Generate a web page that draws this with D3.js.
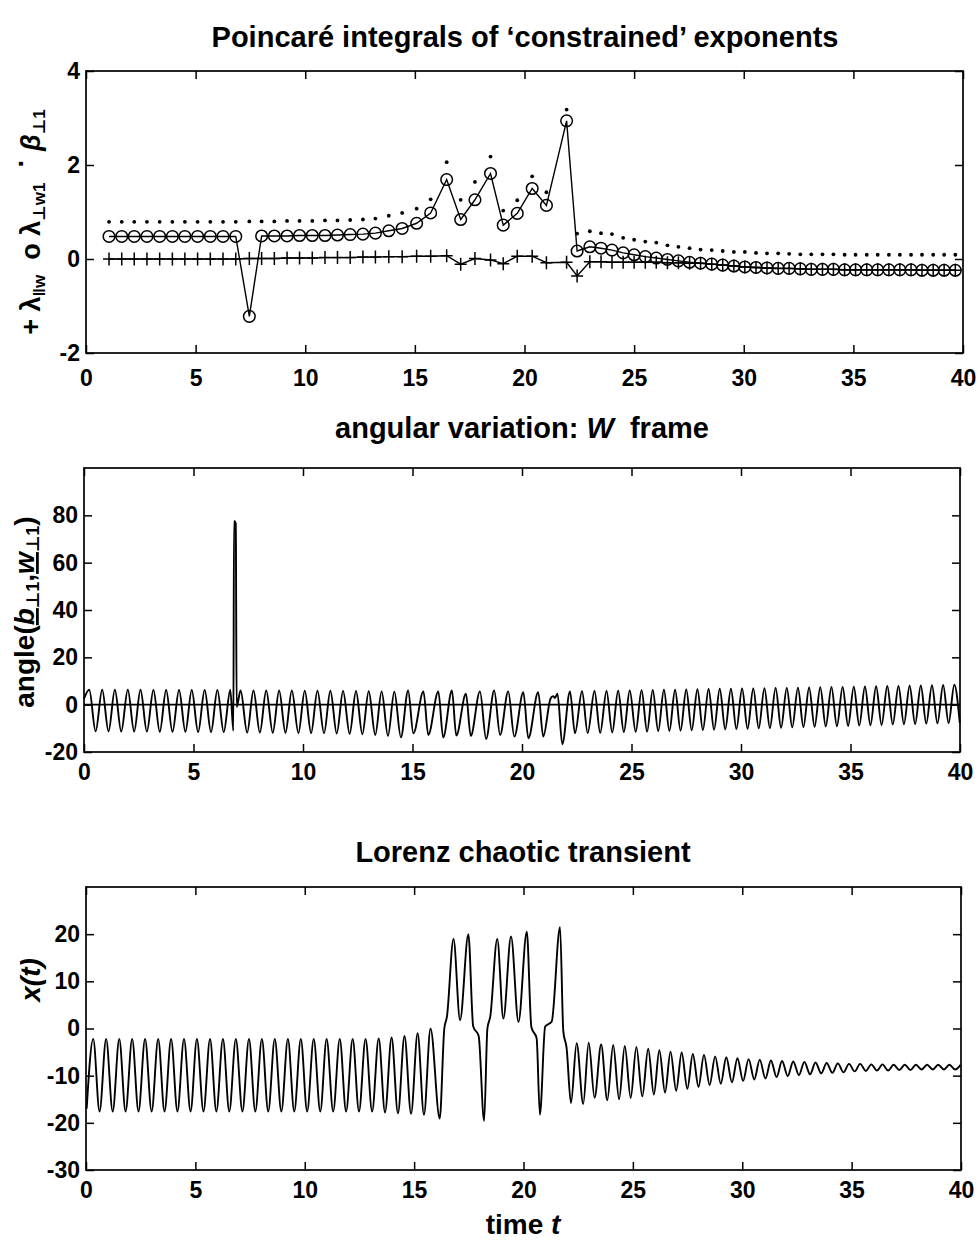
<!DOCTYPE html>
<html>
<head>
<meta charset="utf-8">
<title>Poincaré integrals of constrained exponents</title>
<script src="https://cdn.jsdelivr.net/npm/d3@7/dist/d3.min.js"></script>
<style>
  body { margin: 0; background: #fff; }
  svg text { font-family: "Liberation Sans", Arial, "DejaVu Sans", sans-serif; font-weight: bold; fill: #000; white-space: pre; }
</style>
</head>
<body>
<div id="fig"></div>
<script>
// ---------- data ----------

// shared time ticks
const xTicks = [0, 5, 10, 15, 20, 25, 30, 35, 40];

// top panel: one value per return of the orbit
const retT = [1.05, 1.63, 2.2, 2.78, 3.36, 3.94, 4.51, 5.09, 5.67, 6.25, 6.83, 7.45, 8.01, 8.59, 9.17, 9.74, 10.32, 10.9,
  11.47, 12.05, 12.63, 13.2, 13.81, 14.42, 15.08, 15.72, 16.45, 17.09, 17.74, 18.45, 19.03, 19.67, 20.35, 21.0, 21.92, 22.4,
  22.98, 23.49, 23.99, 24.5, 25.0, 25.51, 26.01, 26.52, 27.02, 27.53, 28.03, 28.54, 29.04, 29.55, 30.05, 30.56, 31.06,
  31.57, 32.07, 32.58, 33.08, 33.59, 34.09, 34.6, 35.1, 35.61, 36.11, 36.62, 37.12, 37.63, 38.13, 38.64, 39.14, 39.65];
// "o" lambda perp w1
const lamPerp = [0.48, 0.48, 0.48, 0.48, 0.48, 0.48, 0.48, 0.48, 0.48, 0.48, 0.48, -1.22, 0.49, 0.49, 0.49, 0.5, 0.5, 0.5,
  0.51, 0.52, 0.53, 0.55, 0.6, 0.65, 0.76, 0.98, 1.69, 0.84, 1.26, 1.82, 0.72, 0.97, 1.5, 1.14, 2.94, 0.17,
  0.26, 0.23, 0.19, 0.13, 0.09, 0.05, 0.02, -0.01, -0.04, -0.07, -0.09, -0.11, -0.13, -0.15, -0.17, -0.18, -0.19,
  -0.2, -0.2, -0.21, -0.22, -0.22, -0.22, -0.23, -0.23, -0.23, -0.23, -0.23, -0.23, -0.23, -0.24, -0.24, -0.24, -0.24];
// "+" lambda parallel w
const lamPar = [0, 0, 0, 0, 0, 0, 0, 0, 0, 0, 0, 0.01, 0.01, 0.01, 0.02, 0.02, 0.02, 0.03,
  0.03, 0.03, 0.04, 0.04, 0.05, 0.05, 0.06, 0.06, 0.07, -0.11, 0.01, -0.02, -0.1, 0.06, 0.06, -0.08, -0.07, -0.36,
  -0.06, -0.06, -0.07, -0.07, -0.07, -0.07, -0.07, -0.08, -0.08, -0.09, -0.09, -0.11, -0.13, -0.15, -0.17, -0.18, -0.19,
  -0.2, -0.2, -0.21, -0.22, -0.22, -0.22, -0.23, -0.23, -0.23, -0.23, -0.23, -0.23, -0.23, -0.24, -0.24, -0.24, -0.24];
// "." beta perp 1
const betaPerp = [0.79, 0.79, 0.79, 0.79, 0.79, 0.79, 0.79, 0.79, 0.79, 0.79, 0.79, 0.8, 0.8, 0.8, 0.81, 0.81, 0.81, 0.82,
  0.82, 0.83, 0.84, 0.86, 0.92, 0.98, 1.07, 1.27, 2.06, 1.26, 1.64, 2.18, 1.03, 1.25, 1.76, 1.42, 3.18, 0.54,
  0.59, 0.55, 0.53, 0.45, 0.41, 0.37, 0.35, 0.29, 0.26, 0.23, 0.2, 0.19, 0.17, 0.15, 0.15, 0.13, 0.12,
  0.12, 0.11, 0.1, 0.1, 0.1, 0.1, 0.09, 0.09, 0.09, 0.09, 0.09, 0.09, 0.09, 0.09, 0.09, 0.09, 0.09];
const yTicksTop = [-2, 0, 2, 4];

// middle panel: maxima, minima and odd points of angle(b, w)
const angPeakT = [0.24, 0.83, 1.41, 2.0, 2.58, 3.17, 3.75, 4.34, 4.92, 5.51, 6.09, 6.68,
  7.15, 7.74, 8.32, 8.91, 9.49, 10.08, 10.66, 11.25, 11.83, 12.42, 13.0, 13.59, 14.17,
  14.8, 15.5, 16.18, 16.8, 17.44, 18.08, 18.73, 19.37, 20.06, 20.74, 22.19,
  22.74, 23.31, 23.86, 24.39, 24.92, 25.46, 25.97, 26.48, 26.99, 27.5, 28.01, 28.52, 29.03, 29.54, 30.05, 30.56, 31.07,
  31.58, 32.09, 32.6, 33.11, 33.62, 34.13, 34.64, 35.15, 35.66, 36.17, 36.68, 37.19, 37.7, 38.21, 38.72, 39.23, 39.74];
const angPeakV = [6.3, 6.3, 6.3, 6.3, 6.3, 6.2, 6.2, 6.2, 6.2, 6.2, 6.2, 6.2,
  6.0, 6.0, 6.0, 6.0, 6.0, 5.9, 5.9, 5.9, 5.8, 5.8, 5.7, 5.6, 5.5,
  6.0, 5.6, 5.6, 6.0, 4.6, 5.6, 6.0, 5.6, 5.3, 5.3, 5.6,
  5.7, 5.8, 5.8, 5.9, 6.0, 6.1, 6.2, 6.3, 6.3, 6.4, 6.5, 6.6, 6.7, 6.7, 6.8, 6.9, 7.0,
  7.1, 7.1, 7.2, 7.3, 7.4, 7.5, 7.5, 7.6, 7.7, 7.8, 7.9, 7.9, 8.0, 8.1, 8.2, 8.3, 8.4];
const angTroughT = [0.53, 1.12, 1.7, 2.29, 2.87, 3.46, 4.04, 4.63, 5.21, 5.8, 6.38, 6.82,
  7.45, 8.03, 8.62, 9.2, 9.79, 10.37, 10.96, 11.54, 12.13, 12.71, 13.3, 13.88, 14.47,
  15.04, 15.72, 16.4, 17.0, 17.66, 18.36, 19.0, 19.65, 20.29, 20.97, 21.84, 22.42,
  23.0, 23.57, 24.12, 24.65, 25.19, 25.71, 26.22, 26.73, 27.24, 27.75, 28.26, 28.77, 29.28, 29.79, 30.3, 30.81, 31.32,
  31.83, 32.34, 32.85, 33.36, 33.87, 34.38, 34.89, 35.4, 35.91, 36.42, 36.93, 37.44, 37.95, 38.46, 38.97, 39.48, 39.99];
const angTroughV = [-11.3, -11.3, -11.4, -11.4, -11.4, -11.5, -11.5, -11.5, -11.6, -11.6, -11.6, -11.0,
  -11.8, -11.8, -11.9, -11.9, -12.0, -12.0, -12.1, -12.2, -12.3, -12.5, -12.8, -13.2, -13.8,
  -12.1, -12.8, -13.9, -13.1, -13.2, -14.5, -12.8, -13.5, -14.2, -13.5, -16.7, -12.1,
  -12.0, -11.9, -11.8, -11.6, -11.5, -11.4, -11.2, -11.1, -11.0, -10.8, -10.7, -10.6, -10.4, -10.3, -10.2, -10.0, -9.9,
  -9.8, -9.6, -9.5, -9.4, -9.2, -9.1, -9.0, -8.8, -8.7, -8.6, -8.4, -8.3, -8.2, -8.0, -7.9, -7.8, -7.7];
// start value, the spike near t = 7 and the small bump near t = 21.5
const angExtraT = [0, 6.85, 6.88, 6.93, 6.97, 21.3, 21.42, 21.5, 21.62];
const angExtraV = [2.5, 77.5, 77.5, 76.5, -1.0, 2.5, 3.6, 2.8, 4.6];
const zeroT = [0, 40];
const zeroV = [0, 0];
const yTicksMid = [-20, 0, 20, 40, 60, 80];

// bottom panel: maxima, minima and shoulders of x(t)
const lorPeakT = [0.33, 0.92, 1.52, 2.11, 2.7, 3.3, 3.89, 4.48, 5.07, 5.67, 6.26, 6.85, 7.45, 8.04, 8.63, 9.23, 9.82,
  10.41, 11.0, 11.6, 12.19, 12.78, 13.38, 13.97, 14.56, 15.16, 15.75,
  16.8, 17.48, 18.8, 19.43, 20.15, 21.67,
  22.43, 22.98, 23.55, 24.1, 24.63, 25.16, 25.7, 26.21, 26.72, 27.23, 27.74, 28.25, 28.76, 29.27, 29.78, 30.29, 30.8,
  31.31, 31.82, 32.33, 32.84, 33.35, 33.86, 34.37, 34.88, 35.39, 35.9, 36.41, 36.92, 37.43, 37.94, 38.45, 38.96, 39.47, 39.98];
const lorPeakV = [-2.2, -2.2, -2.2, -2.2, -2.2, -2.2, -2.2, -2.2, -2.2, -2.2, -2.2, -2.2, -2.2, -2.2, -2.2, -2.2, -2.2,
  -2.2, -2.2, -2.2, -2.2, -2.2, -2.1, -1.9, -1.6, -1.0, 0.0,
  19.0, 20.0, 19.0, 19.5, 20.5, 21.5,
  -3.1, -3.0, -3.4, -3.5, -3.7, -3.9, -4.3, -4.6, -4.9, -5.1, -5.4, -5.6, -5.9, -6.1, -6.3, -6.5, -6.6,
  -6.8, -6.9, -7.0, -7.1, -7.2, -7.3, -7.4, -7.5, -7.5, -7.6, -7.6, -7.7, -7.7, -7.7, -7.7, -7.7, -7.7, -7.7];
const lorTroughT = [0.03, 0.62, 1.22, 1.81, 2.4, 3.0, 3.59, 4.18, 4.78, 5.37, 5.96, 6.55, 7.15, 7.74, 8.33, 8.93, 9.52,
  10.11, 10.71, 11.3, 11.89, 12.48, 13.08, 13.67, 14.26, 14.86, 15.45, 16.17,
  17.1, 18.2, 19.08, 19.77, 20.75, 22.17,
  22.73, 23.25, 23.83, 24.37, 24.9, 25.43, 25.96, 26.47, 26.98, 27.49, 28.0, 28.51, 29.02, 29.53, 30.04, 30.55, 31.06,
  31.57, 32.08, 32.59, 33.1, 33.61, 34.12, 34.63, 35.14, 35.65, 36.16, 36.67, 37.18, 37.69, 38.2, 38.71, 39.22, 39.73];
const lorTroughV = [-17.0, -17.6, -17.6, -17.6, -17.6, -17.6, -17.6, -17.6, -17.6, -17.6, -17.6, -17.6, -17.6, -17.6,
  -17.6, -17.6, -17.6, -17.6, -17.6, -17.6, -17.6, -17.6, -17.6, -17.8, -18.0, -18.1, -18.3, -19.1,
  1.8, -19.6, 2.1, 1.4, -18.3, -15.8,
  -16.0, -14.7, -15.2, -15.0, -14.7, -14.4, -14.0, -13.6, -13.2, -12.8, -12.4, -12.0, -11.7, -11.4, -11.1, -10.8, -10.6,
  -10.3, -10.1, -9.9, -9.7, -9.5, -9.4, -9.3, -9.1, -9.0, -8.9, -8.9, -8.8, -8.8, -8.7, -8.7, -8.7, -8.7];
const lorShoulderT = [16.38, 16.5, 17.7, 17.95, 18.35, 18.48, 20.36, 20.6, 20.99, 21.29, 21.82, 21.97];
const lorShoulderV = [0.0, 2.5, 0.5, -1.6, 0.0, 2.5, 0.3, -2.1, 0.4, 1.5, -0.6, -4.1];
const yTicksBot = [-30, -20, -10, 0, 10, 20];

// ---------- drawing ----------
const svg = d3.select("#fig").append("svg")
  .attr("width", 980)
  .attr("height", 1245)
  .style("background", "#fff");

function knots(tA, vA) { return tA.map(function(t, i) { return {t: t, v: vA[i]}; }); }

// one MATLAB-like box with inward ticks on all four sides
function panel(box, yDomain, yTicks, xPad) {
  const x = d3.scaleLinear().domain([0, 40]).range([box.left, box.right]);
  const y = d3.scaleLinear().domain(yDomain).range([box.bottom, box.top]);
  const g = svg.append("g");
  const fmt = function(d) { return String(d); };

  g.append("g").attr("transform", "translate(0," + box.bottom + ")")
    .call(d3.axisBottom(x).tickValues(xTicks).tickSizeInner(-8).tickSizeOuter(0).tickPadding(xPad).tickFormat(fmt));
  g.append("g").attr("transform", "translate(0," + box.top + ")")
    .call(d3.axisTop(x).tickValues(xTicks).tickSizeInner(-8).tickSizeOuter(0).tickFormat(""));
  g.append("g").attr("transform", "translate(" + box.left + ",0)")
    .call(d3.axisLeft(y).tickValues(yTicks).tickSizeInner(-8).tickSizeOuter(0).tickPadding(6).tickFormat(fmt));
  g.append("g").attr("transform", "translate(" + box.right + ",0)")
    .call(d3.axisRight(y).tickValues(yTicks).tickSizeInner(-8).tickSizeOuter(0).tickFormat(""));

  g.selectAll(".domain").remove();
  g.selectAll(".tick line").attr("stroke", "#000").attr("stroke-width", 1.5);
  g.selectAll("g").attr("font-size", 23);

  g.append("rect")
    .attr("x", box.left).attr("y", box.top)
    .attr("width", box.right - box.left).attr("height", box.bottom - box.top)
    .attr("fill", "none").attr("stroke", "#000").attr("stroke-width", 1.7);
  return {x: x, y: y, g: g};
}

function title(txt, cx, y) {
  return svg.append("text").attr("x", cx).attr("y", y)
    .attr("text-anchor", "middle").attr("font-size", 29).text(txt);
}

// ----- top panel -----
const p1 = panel({left: 86, right: 963, top: 71, bottom: 353}, [-2, 4], yTicksTop, 17);
title("Poincaré integrals of \u2018constrained\u2019 exponents", 525, 47);

const topRows = retT.map(function(t, i) { return {t: t, par: lamPar[i], perp: lamPerp[i], beta: betaPerp[i]}; });

p1.g.append("path").datum(topRows)
  .attr("fill", "none").attr("stroke", "#000").attr("stroke-width", 1.4)
  .attr("d", d3.line().x(function(d) { return p1.x(d.t); }).y(function(d) { return p1.y(d.par); }));
p1.g.append("path").datum(topRows)
  .attr("fill", "none").attr("stroke", "#000").attr("stroke-width", 1.4)
  .attr("d", d3.line().x(function(d) { return p1.x(d.t); }).y(function(d) { return p1.y(d.perp); }));

p1.g.selectAll("path.plus").data(topRows).enter().append("path")
  .attr("class", "plus")
  .attr("transform", function(d) { return "translate(" + p1.x(d.t) + "," + p1.y(d.par) + ")"; })
  .attr("d", "M-6,0H6M0,-6.5V6.5")
  .attr("stroke", "#000").attr("stroke-width", 1.5);
p1.g.selectAll("circle.ring").data(topRows).enter().append("circle")
  .attr("class", "ring")
  .attr("cx", function(d) { return p1.x(d.t); })
  .attr("cy", function(d) { return p1.y(d.perp); })
  .attr("r", 5.8)
  .attr("fill", "none").attr("stroke", "#000").attr("stroke-width", 1.5);
p1.g.selectAll("circle.dot").data(topRows).enter().append("circle")
  .attr("class", "dot")
  .attr("cx", function(d) { return p1.x(d.t); })
  .attr("cy", function(d) { return p1.y(d.beta); })
  .attr("r", 1.9)
  .attr("fill", "#000");

// y label of the top panel
const yl1 = svg.append("text")
  .attr("transform", "translate(40,222) rotate(-90)")
  .attr("text-anchor", "middle").attr("font-size", 27);
yl1.append("tspan").text("+ \u03bb");
yl1.append("tspan").attr("font-size", 17).attr("dy", 5).text("\u2016w");
yl1.append("tspan").attr("dy", -5).text("  o \u03bb");
yl1.append("tspan").attr("font-size", 17).attr("dy", 5).text("\u22a5w1");
yl1.append("tspan").attr("dy", -15).text("  \u00b7 ");
yl1.append("tspan").attr("dy", 10).attr("font-style", "italic").text("\u03b2");
yl1.append("tspan").attr("font-size", 17).attr("dy", 5).text("\u22a51");

// ----- middle panel -----
const p2 = panel({left: 84, right: 960, top: 468, bottom: 752}, [-20, 100], yTicksMid, 12);
const t2 = svg.append("text").attr("x", 522).attr("y", 438).attr("text-anchor", "middle").attr("font-size", 29);
t2.append("tspan").text("angular variation: ");
t2.append("tspan").attr("font-style", "italic").text("W");
t2.append("tspan").text("  frame");

const angKnots = knots(angPeakT, angPeakV)
  .concat(knots(angTroughT, angTroughV), knots(angExtraT, angExtraV))
  .sort(function(a, b) { return a.t - b.t; });

p2.g.append("path").datum(knots(zeroT, zeroV))
  .attr("fill", "none").attr("stroke", "#000").attr("stroke-width", 1.7)
  .attr("d", d3.line().x(function(d) { return p2.x(d.t); }).y(function(d) { return p2.y(d.v); }));
p2.g.append("path").datum(angKnots)
  .attr("fill", "none").attr("stroke", "#000").attr("stroke-width", 1.9).attr("stroke-linejoin", "round")
  .attr("d", d3.line().curve(d3.curveMonotoneX)
    .x(function(d) { return p2.x(d.t); }).y(function(d) { return p2.y(d.v); }));

const yl2 = svg.append("text")
  .attr("transform", "translate(34,612) rotate(-90)")
  .attr("text-anchor", "middle").attr("font-size", 28);
yl2.append("tspan").text("angle(");
yl2.append("tspan").attr("font-style", "italic").attr("text-decoration", "underline").text("b");
yl2.append("tspan").attr("font-size", 18).attr("dy", 5).text("\u22a51");
yl2.append("tspan").attr("dy", -5).text(",");
yl2.append("tspan").attr("font-style", "italic").attr("text-decoration", "underline").text("w");
yl2.append("tspan").attr("font-size", 18).attr("dy", 5).text("\u22a51");
yl2.append("tspan").attr("dy", -5).text(")");

// ----- bottom panel -----
const p3 = panel({left: 86, right: 961, top: 887, bottom: 1170}, [-30, 30], yTicksBot, 12);
title("Lorenz chaotic transient", 523, 862);

const lorKnots = knots(lorPeakT, lorPeakV)
  .concat(knots(lorTroughT, lorTroughV), knots(lorShoulderT, lorShoulderV))
  .sort(function(a, b) { return a.t - b.t; });

p3.g.append("path").datum(lorKnots)
  .attr("fill", "none").attr("stroke", "#000").attr("stroke-width", 1.9).attr("stroke-linejoin", "round")
  .attr("d", d3.line().curve(d3.curveMonotoneX)
    .x(function(d) { return p3.x(d.t); }).y(function(d) { return p3.y(d.v); }));

const yl3 = svg.append("text")
  .attr("transform", "translate(40,980) rotate(-90)")
  .attr("text-anchor", "middle").attr("font-size", 28).attr("font-style", "italic");
yl3.append("tspan").text("x(t)");

const xl3 = svg.append("text").attr("x", 523).attr("y", 1234).attr("text-anchor", "middle").attr("font-size", 28);
xl3.append("tspan").text("time ");
xl3.append("tspan").attr("font-style", "italic").text("t");
</script>
</body>
</html>
